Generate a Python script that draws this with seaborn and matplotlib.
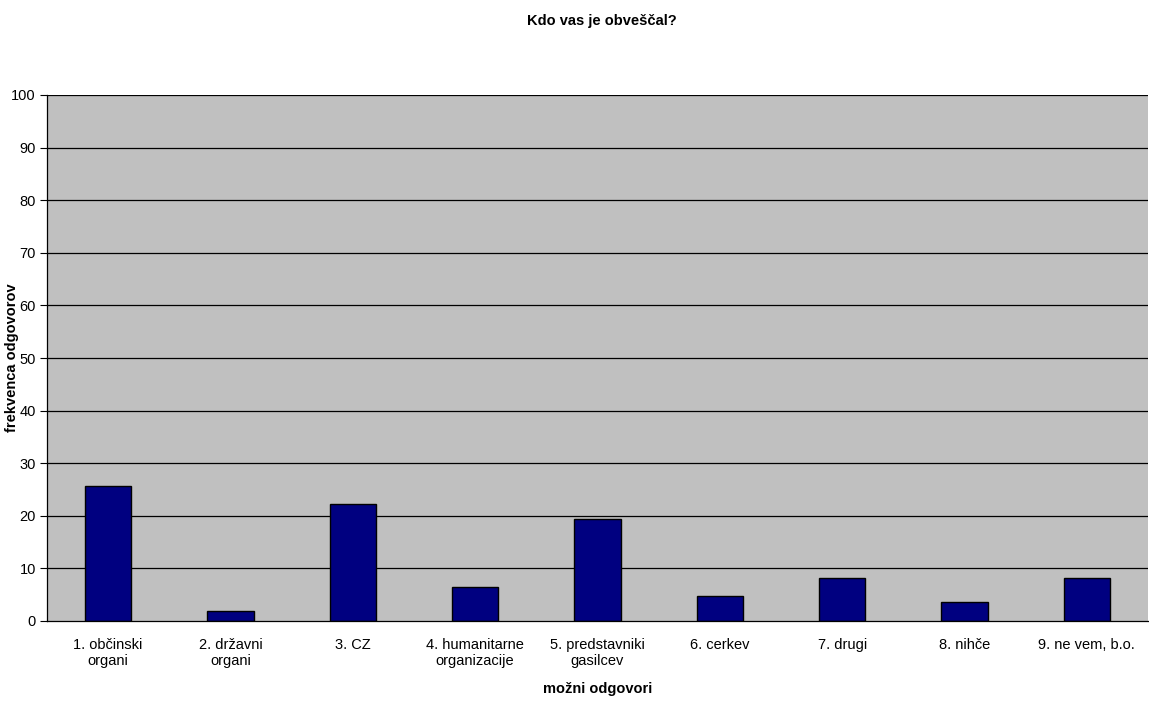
import matplotlib
matplotlib.use("Agg")
import matplotlib.pyplot as plt
import seaborn as sns
import pandas as pd
import numpy as np

categories = ["1. občinski\norgani", "2. državni\norgani", "3. CZ", "4. humanitarne\norganizacije",
              "5. predstavniki\ngasilcev", "6. cerkev", "7. drugi", "8. nihče", "9. ne vem, b.o."]
values = [25.6, 1.9, 22.3, 6.4, 19.3, 4.7, 8.2, 3.6, 8.2]
yticks = [0, 10, 20, 30, 40, 50, 60, 70, 80, 90, 100]

sns.set_style("white")
plt.rcParams['font.family'] = ['Liberation Sans', 'DejaVu Sans']
plt.rcParams['text.color'] = 'black'
plt.rcParams['axes.labelcolor'] = 'black'
plt.rcParams['xtick.color'] = 'black'
plt.rcParams['ytick.color'] = 'black'

df = pd.DataFrame({"cat": categories, "val": values})

fig = plt.figure(figsize=(11.49, 7.02), dpi=100)
ax = fig.add_axes([47/1149, 1 - 621/702, (1148 - 47)/1149, (621 - 95)/702])
ax.set_facecolor("#C0C0C0")

sns.barplot(data=df, x="cat", y="val", color="#000080", edgecolor="black",
            linewidth=1.0, width=0.38, saturation=1, ax=ax, zorder=3)

ax.set_ylim(0, 100)
ax.set_xlim(-0.5, len(categories) - 0.5)
ax.set_yticks(yticks)
ax.set_yticklabels([str(t) for t in yticks], fontsize=10.5, color="black")
for t in yticks[1:]:
    ax.axhline(t, color="black", linewidth=0.9, zorder=1)

ax.set_xticks(range(len(categories)))
ax.set_xticklabels(categories, fontsize=10.5, linespacing=1.25, color="black")
ax.tick_params(axis="x", which="major", length=0, pad=12)
ax.set_xticks(np.arange(-0.5, len(categories), 1.0), minor=True)
ax.tick_params(axis="x", which="minor", length=5, width=0.8, color="black", direction="out")
ax.tick_params(axis="y", length=5, width=0.8, color="black", direction="out", left=True, pad=3)

for s in ["top", "right"]:
    ax.spines[s].set_visible(False)
for s in ["left", "bottom"]:
    ax.spines[s].set_color("black")
    ax.spines[s].set_linewidth(0.9)
    ax.spines[s].set_zorder(4)

ax.set_xlabel("možni odgovori", fontsize=10.5, fontweight="bold", labelpad=10, color="black")
ax.set_ylabel("")
fig.text(12/1149, 1 - 358/702, "frekvenca odgovorov", rotation=90, ha="center", va="center",
         fontsize=10.5, fontweight="bold", color="black")

fig.text(602/1149, 1 - 21/702, "Kdo vas je obveščal?", ha="center", va="center",
         fontsize=10.5, fontweight="bold", color="black")

fig.savefig("out.png", dpi=100, facecolor="white")
